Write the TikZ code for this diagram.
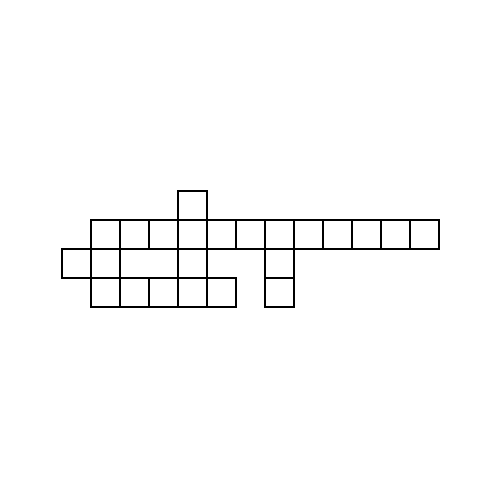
\documentclass[tikz,border=0pt]{standalone}
\usetikzlibrary{positioning}

\begin{document}
\begin{tikzpicture}
[x=.5cm,y=.5cm,node distance=0pt,
cell/.style={draw=black,line width=1pt,minimum size=.5cm,inner sep=0pt,outer sep=0pt}]
\useasboundingbox (-3.12,7.57) rectangle (14.09,-9.6);
%% long row
\foreach \c in {0,...,11}
  \node[cell] (a\c) at (\c+.5,-.5) {};
\node[cell,above=of a3] (top) {};
%% second row
\node[cell,below=of a0] (b0) {};
\node[cell,left=of b0] (bl) {};
\node[cell,below=of a3] (b3) {};
\node[cell,below=of a6] (b6) {};
%% third row
\foreach \c in {0,...,4}
  \node[cell] (d\c) at (\c+.5,-2.5) {};
\node[cell,below=of b6] (d6) {};
\end{tikzpicture}
\end{document}
